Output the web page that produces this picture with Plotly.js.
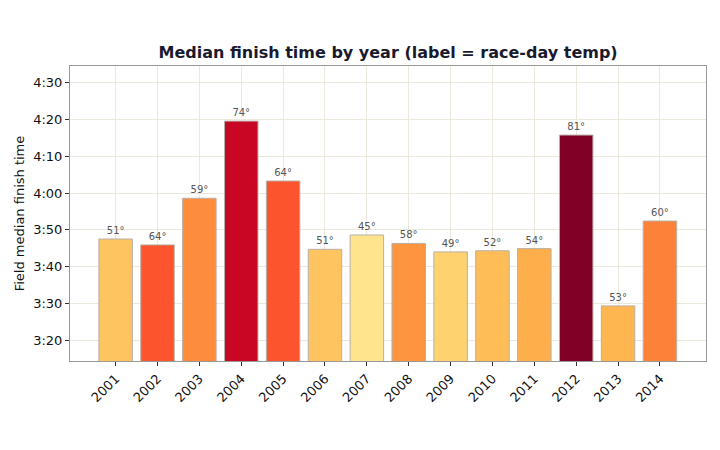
<!DOCTYPE html>
<html><head><meta charset="utf-8">
<script src="https://cdn.plot.ly/plotly-3.0.1.min.js"></script>
<style>html,body{margin:0;padding:0;background:#fff}#chart{width:720px;height:450px}</style>
</head><body><div id="chart"></div>
<script>
const years = ["2001","2002","2003","2004","2005","2006","2007","2008","2009","2010","2011","2012","2013","2014"];
// median finish time in minutes
const medianMinutes = [227.5, 225.9, 238.6, 259.6, 243.3, 224.7, 228.6, 226.3, 224.0, 224.3, 224.9, 255.8, 209.3, 232.4];
const temps = [51, 64, 59, 74, 64, 51, 45, 58, 49, 52, 54, 81, 53, 60];
const tickMinutes = [200, 210, 220, 230, 240, 250, 260, 270];
const tickLabels = ["3:20","3:30","3:40","3:50","4:00","4:10","4:20","4:30"];

const ylorrd = [[0,'#ffffcc'],[0.125,'#ffeda0'],[0.25,'#fed976'],[0.375,'#feb24c'],[0.5,'#fd8d3c'],[0.625,'#fc4e2a'],[0.75,'#e31a1c'],[0.875,'#bd0026'],[1,'#800026']];

const trace = {
  type: 'bar',
  x: years,
  y: medianMinutes,
  width: 0.8,
  text: temps.map(t => t + '°'),
  textposition: 'outside',
  cliponaxis: false,
  textfont: {family: 'DejaVu Sans', size: 10, color: '#555555'},
  marker: {
    color: temps, colorscale: ylorrd, cmin: 37, cmax: 81, showscale: false,
    line: {color: '#b8b0a8', width: 1}
  },
  hoverinfo: 'none'
};

const layout = {
  width: 720, height: 450,
  margin: {l: 70, r: 14, t: 66, b: 89},
  paper_bgcolor: '#ffffff', plot_bgcolor: '#ffffff',
  font: {family: 'DejaVu Sans', color: '#222222'},
  showlegend: false,
  title: {text: '<b>Median finish time by year (label = race-day temp)</b>', x: 0.539, xanchor: 'center', y: 0.883, yanchor: 'middle', font: {family: 'DejaVu Sans', size: 16, color: '#1a1a2e'}},
  xaxis: {
    type: 'category', range: [-1.09, 14.1],
    tickangle: -45, tickfont: {size: 13, color: '#111'},
    ticks: 'outside', ticklen: 4, tickcolor: '#333',
    showgrid: true, gridcolor: '#ece8dc', gridwidth: 1,
    showline: true, linecolor: '#999999', linewidth: 1, mirror: true,
    zeroline: false
  },
  yaxis: {
    range: [194.3, 274.6],
    tickvals: tickMinutes, ticktext: tickLabels,
    tickfont: {size: 13, color: '#111'},
    ticks: 'outside', ticklen: 4, tickcolor: '#333',
    showgrid: true, gridcolor: '#ece8dc', gridwidth: 1,
    showline: true, linecolor: '#999999', linewidth: 1, mirror: true,
    zeroline: false,
    title: {text: 'Field median finish time', font: {size: 13, color: '#111'}, standoff: 5}
  },
  bargap: 0.2
};

Plotly.newPlot('chart', [trace], layout, {displayModeBar: false, staticPlot: true});
</script></body></html>
